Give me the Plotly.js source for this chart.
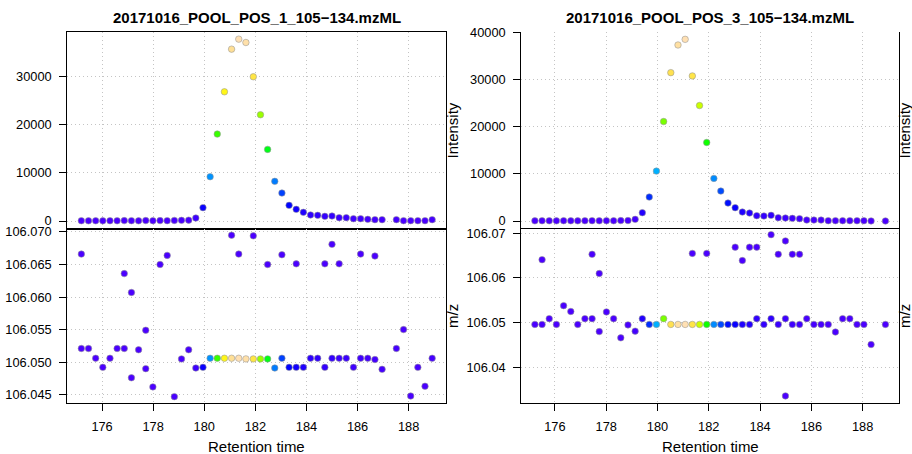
<!DOCTYPE html>
<html>
<head>
<meta charset="utf-8">
<script src="https://cdn.plot.ly/plotly-3.0.1.min.js"></script>
<style>html,body{margin:0;padding:0;background:#fff;}#chart{width:912px;height:454px;}</style>
</head>
<body>
<div id="chart"></div>
<script>
// ---------- Left file: 20171016_POOL_POS_1_105-134.mzML ----------
const titleL = "20171016_POOL_POS_1_105\u2212134.mzML";
const rtL = [175.19,175.47,175.75,176.03,176.31,176.59,176.87,177.15,177.43,177.71,
             177.99,178.27,178.55,178.83,179.11,179.39,179.67,179.95,180.23,180.51,
             180.79,181.07,181.35,181.63,181.92,182.20,182.48,182.76,183.04,183.32,
             183.60,183.88,184.16,184.44,184.72,185.00,185.28,185.56,185.84,186.12,
             186.40,186.68,186.96,187.52,187.80,188.08,188.36,188.64,188.92];
const intL = [60,40,50,30,60,50,80,70,40,90,
              60,80,70,120,140,180,620,2770,9200,18060,
              26850,35710,37790,37090,29970,22080,14880,8240,5810,3250,
              2420,1800,1250,1180,970,1040,690,690,480,480,
              350,280,280,280,70,70,70,70,280];
const mzL = [106.0521,106.0521,106.0506,106.0492,106.0506,106.0521,106.0521,106.0476,106.0519,106.0490,
             106.0462,106.0650,106.0664,106.0447,106.0505,106.0519,106.0491,106.0492,106.0506,106.0506,
             106.0506,106.0506,106.0506,106.0505,106.0505,106.0505,106.0505,106.0491,106.0506,106.0492,
             106.0492,106.0492,106.0506,106.0506,106.0492,106.0506,106.0506,106.0506,106.0492,106.0506,
             106.0506,106.0504,106.0489,106.0521,106.0550,106.0448,106.0492,106.0463,106.0506];
// additional (low intensity) peaks in the m/z window
const rtLx  = [175.19,176.87,177.15,177.71,181.07,181.35,181.92,182.48,183.04,183.60,184.72,185.00,185.28,186.12,186.68];
const mzLx  = [106.0666,106.0636,106.0607,106.0549,106.0695,106.0666,106.0694,106.0650,106.0665,106.0651,106.0651,106.0681,106.0651,106.0666,106.0663];
const intLx = [50,40,40,60,30,30,30,30,30,30,30,30,30,30,30];

// ---------- Right file: 20171016_POOL_POS_3_105-134.mzML ----------
const titleR = "20171016_POOL_POS_3_105\u2212134.mzML";
const rtR = [175.22,175.50,175.78,176.06,176.34,176.62,176.89,177.17,177.45,177.73,
             178.01,178.29,178.57,178.85,179.13,179.41,179.68,179.96,180.24,180.52,
             180.80,181.08,181.36,181.64,181.92,182.20,182.47,182.75,183.03,183.31,
             183.59,183.87,184.15,184.43,184.71,184.99,185.26,185.54,185.82,186.10,
             186.38,186.66,186.94,187.22,187.50,187.78,188.05,188.33,188.89];
const intR = [40,60,50,30,70,50,40,60,80,50,
              70,60,90,100,350,1760,5080,10580,21090,31460,
              37320,38520,30760,24480,16650,9030,6350,3810,2820,1900,
              1690,1130,1060,1200,700,630,560,500,210,210,
              200,70,70,70,70,60,60,20,10];
const mzR = [106.0496,106.0496,106.0509,106.0496,106.0538,106.0525,106.0496,106.0509,106.0509,106.0480,
             106.0524,106.0509,106.0466,106.0495,106.0481,106.0509,106.0496,106.0496,106.0509,106.0496,
             106.0496,106.0496,106.0496,106.0496,106.0496,106.0496,106.0496,106.0496,106.0496,106.0496,
             106.0496,106.0509,106.0496,106.0509,106.0496,106.0509,106.0496,106.0496,106.0509,106.0496,
             106.0496,106.0496,106.0479,106.0509,106.0509,106.0496,106.0496,106.0451,106.0496];
const rtRx  = [175.50,177.45,177.73,181.36,181.92,183.03,183.31,183.59,183.87,184.43,184.71,184.99,184.99,185.26,185.54];
const mzRx  = [106.0641,106.0653,106.0610,106.0655,106.0655,106.0669,106.0639,106.0669,106.0669,106.0697,106.0653,106.0683,106.0336,106.0653,106.0653];
const intRx = [40,40,40,30,30,30,30,30,30,30,30,30,30,30,30];

const xTickVals = [176,178,180,182,184,186,188];

// topo.colors-like colour ramp
const topo = [[0,'#4C00FF'],[0.083,'#0000FF'],[0.167,'#004DFF'],[0.25,'#0099FF'],[0.333,'#00E6FF'],
              [0.334,'#00FF4D'],[0.417,'#00FF00'],[0.5,'#4DFF00'],[0.583,'#99FF00'],[0.666,'#E6FF00'],
              [0.667,'#FFFF00'],[0.833,'#FFDE59'],[1,'#FFE0B3']];

const FONT = '"Liberation Sans", Arial, Helvetica, sans-serif';
const W = 912, H = 454;
const px = v => v / W;
const py = v => 1 - v / H;

function mk(x, y, c, cmax, xa, ya) {
  return {type:'scatter', mode:'markers', x:x, y:y, xaxis:xa, yaxis:ya, hoverinfo:'x+y',
    marker:{size:6.5, color:c, colorscale:topo, cmin:0, cmax:cmax, showscale:false,
            line:{width:0.8, color:'rgba(150,150,150,0.7)'}}};
}
const maxL = Math.max(...intL), maxR = Math.max(...intR);
const data = [
  mk(rtL, intL, intL, maxL, 'x', 'y'),
  mk(rtLx, mzLx, intLx, maxL, 'x2', 'y2'),
  mk(rtL, mzL, intL, maxL, 'x2', 'y2'),
  mk(rtR, intR, intR, maxR, 'x3', 'y3'),
  mk(rtRx, mzRx, intRx, maxR, 'x4', 'y4'),
  mk(rtR, mzR, intR, maxR, 'x4', 'y4')
];

const grid = {showgrid:true, gridcolor:'#C4C4C4', griddash:'1px,3px', gridwidth:1, zeroline:false};
const tf = {family:FONT, size:12.8, color:'#000'};
const line = {showline:true, linecolor:'#000', linewidth:1.1};
function xa(dom, rng, anchor, labels, showline, mirror) {
  return Object.assign({domain:dom, range:rng, anchor:anchor, tickmode:'array', tickvals:xTickVals,
    ticktext:xTickVals.map(String), showticklabels:labels, ticks:labels?'outside':'', ticklen:7,
    tickcolor:'#000', tickfont:tf, ticklabelstandoff:5}, grid, showline?line:{showline:false}, {mirror:mirror});
}
function ya(dom, rng, anchor, vals, fmt, mirror) {
  return Object.assign({domain:dom, range:rng, anchor:anchor, tickmode:'array', tickvals:vals,
    ticktext:vals.map(v => fmt ? v.toFixed(fmt) : String(v)), ticks:'outside', ticklen:7, tickcolor:'#000',
    tickfont:tf, ticklabelstandoff:5}, grid, line, {mirror:mirror});
}
const dL = [px(67.3), px(445.7)], dR = [px(521.3), px(899.3)];
const dTop = [py(228.7), py(32.3)], dBot = [py(402.7), py(228.7)];

function lab(text, x, y, opts) {
  return Object.assign({text:text, x:px(x), y:py(y), xref:'paper', yref:'paper', showarrow:false,
    xanchor:'center', yanchor:'middle', font:{family:FONT, size:15, color:'#000'}}, opts || {});
}

const layout = {
  width:W, height:H, margin:{l:0, r:0, t:0, b:0}, showlegend:false,
  paper_bgcolor:'#fff', plot_bgcolor:'#fff', font:{family:FONT, color:'#000'},
  xaxis:  xa(dL, [174.64,189.45], 'y', false, true, true),
  yaxis:  ya(dTop, [-1600,39212], 'x', [0,10000,20000,30000], 0, true),
  xaxis2: xa(dL, [174.64,189.45], 'y2', true, true, true),
  yaxis2: ya(dBot, [106.04377,106.0705], 'x2', [106.045,106.050,106.055,106.060,106.065,106.070], 3, true),
  xaxis3: xa(dR, [174.69,189.43], 'y3', false, false, false),
  yaxis3: ya(dTop, [-1630,40010], 'x3', [0,10000,20000,30000,40000], 0, true),
  xaxis4: xa(dR, [174.69,189.43], 'y4', true, true, true),
  yaxis4: ya(dBot, [106.03208,106.07103], 'x4', [106.04,106.05,106.06,106.07], 2, true),
  annotations: [
    lab(titleL, 256.5, 18, {font:{family:FONT, size:15, weight:'bold', color:'#000'}}),
    lab(titleR, 710.3, 18, {font:{family:FONT, size:15, weight:'bold', color:'#000'}}),
    lab('Retention time', 256.5, 446.5),
    lab('Retention time', 710.3, 446.5),
    lab('Intensity', 452, 130.5, {textangle:-90}),
    lab('m/z', 452, 316, {textangle:-90}),
    lab('Intensity', 904, 130.5, {textangle:-90}),
    lab('m/z', 904, 316, {textangle:-90})
  ]
};
Plotly.newPlot('chart', data, layout, {displayModeBar:false, staticPlot:true});
</script>
</body>
</html>
